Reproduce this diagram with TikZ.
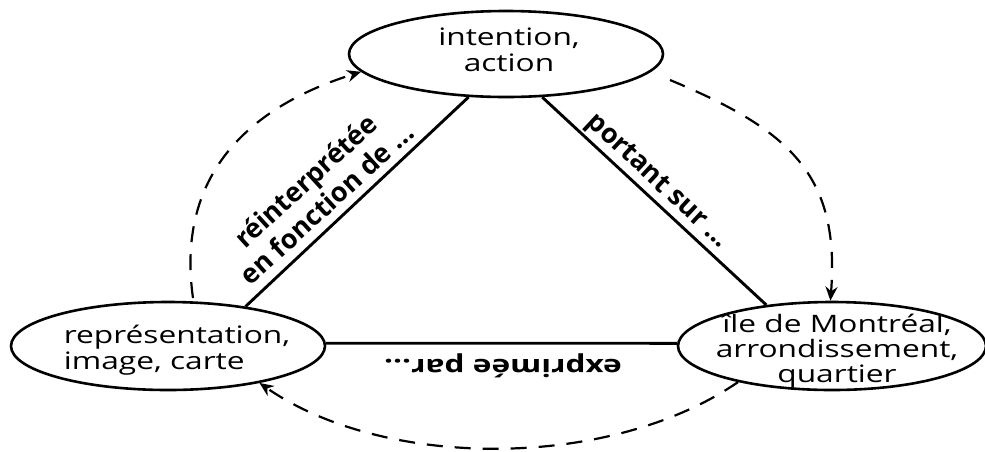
\documentclass[tikz,border=0pt]{standalone}
\usepackage{fontspec}
\setmainfont{Open Sans}
\usetikzlibrary{shapes.geometric,arrows.meta}

\tikzset{
  ell/.style={draw, ellipse, line width=2.6pt, inner sep=0pt},
  tri/.style={line width=2.9pt},
  cycle arc/.style={line width=2.2pt, dash pattern=on 16pt off 12pt,
    -{Stealth[length=14pt,width=12pt]}},
  nodetext/.style={inner sep=0pt, font=\fontsize{24}{26}\selectfont},
  lbl/.style={inner sep=0pt, align=center, font=\fontsize{27}{31}\selectfont\bfseries},
}

\begin{document}
\begin{tikzpicture}[x=1pt, y=-1pt]
  \useasboundingbox (0,0) rectangle (985,451);

  % the three poles
  \node[ell, minimum width=314pt, minimum height=86pt] (T) at (506,54) {};
  \node[ell, minimum width=314pt, minimum height=88pt] (L) at (168,346) {};
  \node[ell, minimum width=308pt, minimum height=88pt] (R) at (832,346) {};

  \node[nodetext] (Ttext) at (509,53)
    {\scalebox{1.32}[1]{\begin{tabular}{@{}c@{}}intention,\\action\end{tabular}}};
  \node[nodetext] (Ltext) at (177,351)
    {\scalebox{1.32}[1]{\begin{tabular}{@{}l@{}}représentation,\\image, carte\end{tabular}}};
  \node[nodetext, font=\fontsize{24}{25}\selectfont] (Rtext) at (837,352)
    {\scalebox{1.32}[1]{\begin{tabular}{@{}c@{}}île de Montréal,\\arrondissement,\\quartier\end{tabular}}};

  % triangle sides
  \draw[tri] (T.229) -- (L.27.5);
  \draw[tri] (T.-50) -- (R.148.5);
  \draw[tri] (L.1) -- (R.179);

  % side labels
  \node[lbl, rotate=42.5] (reint) at (316,192) {réinterprétée\\en fonction de ...};
  \node[lbl, rotate=-43] (portant) at (657,182) {portant sur ...};
  \begin{scope}[shift={(503,366)}, xscale=1.32]
    \node[lbl, font=\fontsize{24}{26}\selectfont\bfseries, rotate=180, transform shape]
      (exprime) {exprimée par...};
  \end{scope}

  % the dashed cycle
  \coordinate (lt) at (193,298);
  \coordinate (rt) at (670,80);
  \draw[cycle arc] (lt) .. controls (175,170) and (255,105) .. (T.187.6);
  \draw[cycle arc] (rt) .. controls (790,130) and (840,175) .. (R.92);
  \draw[cycle arc] (R.201) .. controls (610,470) and (385,470) .. (L.-22);
\end{tikzpicture}
\end{document}
